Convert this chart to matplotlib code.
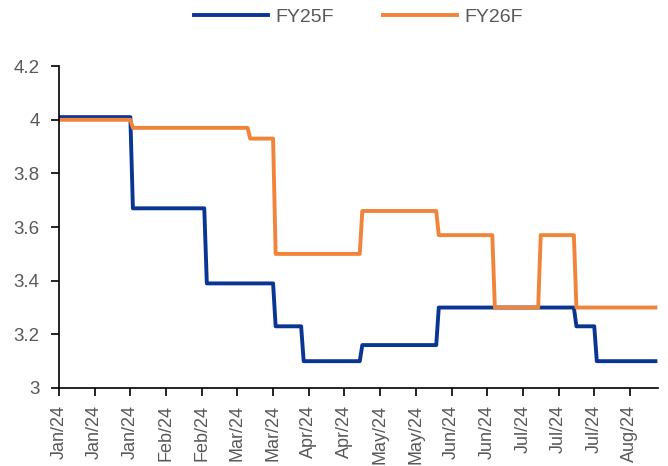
import matplotlib
matplotlib.use("Agg")
import matplotlib.pyplot as plt
import matplotlib.dates as mdates
from matplotlib.ticker import FuncFormatter
import pandas as pd

# Change points (first day of each new level)
fy25_change_dates = ['2024-01-01', '2024-01-30', '2024-02-28', '2024-03-26', '2024-04-06',
                     '2024-04-29', '2024-05-29', '2024-07-22', '2024-07-30']
fy25_values = [4.01, 3.67, 3.39, 3.23, 3.10, 3.16, 3.30, 3.23, 3.10]

fy26_change_dates = ['2024-01-01', '2024-01-30', '2024-03-16', '2024-03-26', '2024-04-29',
                     '2024-05-29', '2024-06-20', '2024-07-08', '2024-07-22']
fy26_values = [4.00, 3.97, 3.93, 3.50, 3.66, 3.57, 3.30, 3.57, 3.30]

start_date = '2024-01-01'
end_date = '2024-08-22'
series_names = ['FY25F', 'FY26F']
colors = ['#0A3592', '#F0843A']

days = pd.date_range(start_date, end_date, freq='D')


def daily(change_dates, values):
    s = pd.Series(values, index=pd.to_datetime(change_dates))
    return s.reindex(days, method='ffill')


fy25 = daily(fy25_change_dates, fy25_values)
fy26 = daily(fy26_change_dates, fy26_values)

plt.rcParams['font.family'] = ['Liberation Sans', 'DejaVu Sans']
fig = plt.figure(figsize=(6.68, 4.66), dpi=100)
ax = fig.add_axes([0.0883, 0.1674, 0.8967, 0.6906])

ax.plot(fy25.index, fy25.values, color=colors[0], lw=2.8, label=series_names[0])
ax.plot(fy26.index, fy26.values, color=colors[1], lw=2.8, label=series_names[1])

ax.set_ylim(3.0, 4.2)
ax.set_yticks([3.0, 3.2, 3.4, 3.6, 3.8, 4.0, 4.2])
ax.yaxis.set_major_formatter(FuncFormatter(lambda v, p: '%g' % round(v, 2)))
ax.set_xlim(pd.Timestamp(start_date), pd.Timestamp('2024-08-23'))
ticks = pd.date_range(start_date, end_date, freq='14D')
ax.set_xticks(ticks)
ax.xaxis.set_major_formatter(mdates.DateFormatter('%b/%y'))

for sp in ['top', 'right']:
    ax.spines[sp].set_visible(False)
for sp in ['left', 'bottom']:
    ax.spines[sp].set_color('black')
    ax.spines[sp].set_linewidth(1.2)

ax.tick_params(axis='y', length=6, width=1.2, pad=8, labelsize=13.5, labelcolor='#595959', direction='out')
ax.tick_params(axis='x', length=6, width=1.2, pad=6, labelsize=13, labelcolor='#595959', direction='out',
               labelrotation=90)

leg = ax.legend(loc='center', bbox_to_anchor=(0.5, (388 - 17) / 321.8), ncol=2, frameon=False,
                fontsize=14, handlelength=3.8, columnspacing=2.5, handletextpad=0.4)
for t in leg.get_texts():
    t.set_color('#595959')

fig.savefig('out.png', dpi=100)
